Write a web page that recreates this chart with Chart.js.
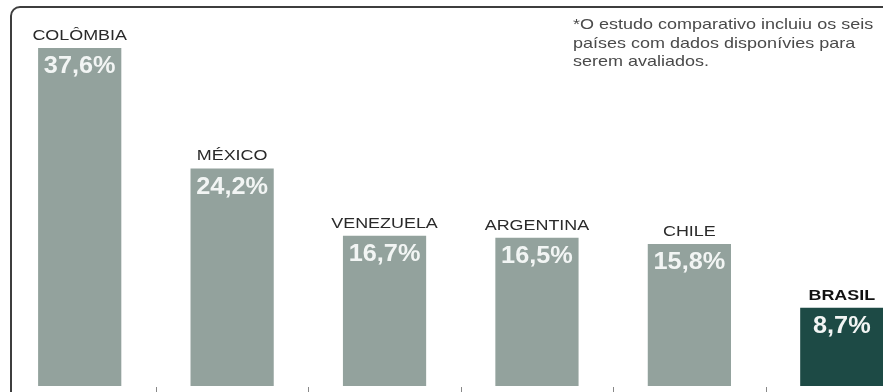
<!DOCTYPE html>
<html>
<head>
<meta charset="utf-8">
<script src="https://cdn.jsdelivr.net/npm/chart.js@4/dist/chart.umd.min.js"></script>
<style>
html,body{margin:0;padding:0;background:#fff;overflow:hidden;width:883px;height:392px;}
#wrap{position:relative;width:920px;height:392px;}
</style>
</head>
<body>
<div id="wrap"><canvas id="c" width="920" height="392"></canvas></div>
<script>
const categories = ["COLÔMBIA", "MÉXICO", "VENEZUELA", "ARGENTINA", "CHILE", "BRASIL"];
const values = [37.6, 24.2, 16.7, 16.5, 15.8, 8.7];
const valueLabels = ["37,6%", "24,2%", "16,7%", "16,5%", "15,8%", "8,7%"];
const noteLines = ["*O estudo comparativo incluiu os seis", "países com dados disponívies para", "serem avaliados."];

const grayBar = "#93a29d";
const darkBar = "#1d4a45";
const FONT = "'Liberation Sans', Arial, Helvetica, sans-serif";

function sText(ctx, txt, x, y, font, color, sx, align) {
  ctx.save();
  ctx.font = font;
  ctx.fillStyle = color;
  ctx.textBaseline = "middle";
  ctx.textAlign = align || "center";
  ctx.translate(x, y);
  ctx.scale(sx, 1);
  ctx.fillText(txt, 0, 0);
  ctx.restore();
}

const deco = {
  id: "deco",
  beforeDraw(chart) {
    const ctx = chart.ctx;
    ctx.save();
    ctx.strokeStyle = "#3e3e3e";
    ctx.lineWidth = 2;
    const x0 = 11, y0 = 7, r = 9;
    ctx.beginPath();
    ctx.moveTo(x0, 400);
    ctx.lineTo(x0, y0 + r);
    ctx.arcTo(x0, y0, x0 + r, y0, r);
    ctx.lineTo(940, y0);
    ctx.stroke();
    ctx.restore();
  },
  afterDatasetsDraw(chart) {
    const ctx = chart.ctx;
    const meta = chart.getDatasetMeta(0);
    const xs = chart.scales.x;
    ctx.save();
    ctx.strokeStyle = "#888";
    ctx.lineWidth = 1;
    for (let i = 0; i < categories.length - 1; i++) {
      const bx = Math.round((xs.getPixelForValue(i) + xs.getPixelForValue(i + 1)) / 2) + 0.5;
      ctx.beginPath();
      ctx.moveTo(bx, 387);
      ctx.lineTo(bx, 392);
      ctx.stroke();
    }
    ctx.restore();
    meta.data.forEach((bar, i) => {
      const isBr = i === categories.length - 1;
      sText(ctx, categories[i], bar.x, bar.y - 12,
        (isBr ? "bold " : "") + "14px " + FONT, isBr ? "#111" : "#2a2a2a", 1.28);
      sText(ctx, valueLabels[i], bar.x, bar.y + 19,
        "bold 23px " + FONT, "#f2f5f4", 1.1);
    });
    noteLines.forEach((t, k) => {
      sText(ctx, t, 573, 25 + k * 18.5, "15px " + FONT, "#4a4a4a", 1.2, "left");
    });
  }
};

new Chart(document.getElementById("c"), {
  type: "bar",
  data: {
    labels: categories,
    datasets: [{
      data: values,
      backgroundColor: values.map((v, i) => i === values.length - 1 ? darkBar : grayBar),
      borderWidth: 0,
      categoryPercentage: 1,
      barPercentage: 0.546
    }]
  },
  options: {
    responsive: false,
    animation: false,
    layout: { padding: { left: 3.5, right: 2, top: 26.4, bottom: 6 } },
    plugins: { legend: { display: false }, tooltip: { enabled: false } },
    scales: {
      x: { display: false },
      y: { display: false, min: 0, max: 40 }
    }
  },
  plugins: [deco]
});
</script>
</body>
</html>
